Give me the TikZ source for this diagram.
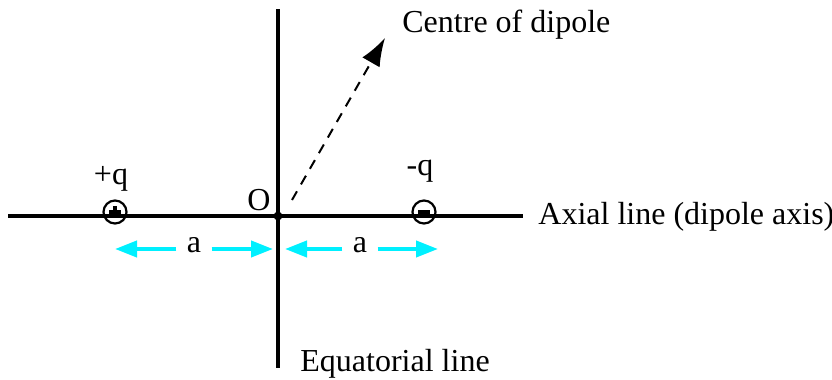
\documentclass[tikz,border=0pt]{standalone}
\usepackage{fontspec}
\setmainfont{Liberation Serif}
\usetikzlibrary{arrows.meta}
\definecolor{gapcyan}{RGB}{0,240,255}
\tikzset{
  charge/.style={draw,circle,line width=1.1pt,minimum size=11.5pt,inner sep=0pt},
  sign/.style={line width=1.6pt},
  gap/.style={draw=gapcyan,line width=2pt,-{Triangle[length=11pt,width=8pt]}},
  lbl/.style={inner sep=0pt,font=\fontsize{16}{19}\selectfont}
}
\begin{document}
\begin{tikzpicture}[x=0.5pt,y=-0.5pt]
\useasboundingbox (0,0) rectangle (832,380);
\coordinate (axL) at (8,216);
\coordinate (axR) at (523,216);
\coordinate (eqT) at (278,9);
\coordinate (eqB) at (278,368);
\draw[line width=1.6pt] (axL) -- (axR);
\draw[line width=1.6pt] (eqT) -- (eqB);
\fill (278,216) circle (2.2pt) coordinate (O);

\node[charge] (pq) at (115,212) {};
\draw[sign] (pq.center) ++(-6,0) -- ++(12,0);
\draw[sign] (pq.center) ++(0,-6) -- ++(0,12);
\node[charge] (nq) at (424,212) {};
\draw[sign] (nq.center) ++(-6,0) -- ++(12,0);

\node[lbl] (pqlbl) at (111,179) {+q};
\node[lbl] (nqlbl) at (420,171) {-q};
\node[lbl] (olbl) at (259,200) {O};

% dipole centre
\coordinate (d0) at (292,200);
\coordinate (d1) at (385,38);
\draw[line width=1pt,dash pattern=on 5pt off 4pt,-{Latex[length=14pt,width=10pt]}] (d0) -- (d1);
\node[lbl,anchor=west] (cent) at (402,25) {Centre of dipole};

\node[lbl,anchor=west] (axial) at (538,217) {Axial line (dipole axis)};
\node[lbl,anchor=west] (equat) at (300,364) {Equatorial line};

% separations
\node[lbl] (a1) at (194,245) {a};
\node[lbl] (a2) at (360,245) {a};
\coordinate (l1) at (115,249);
\coordinate (r1) at (273,249);
\coordinate (l2) at (285,249);
\coordinate (r2) at (438,249);
\draw[gap] (a1.west |- l1) ++(-10,0) -- (l1);
\draw[gap] (a1.east |- r1) ++(10,0) -- (r1);
\draw[gap] (a2.west |- l2) ++(-10,0) -- (l2);
\draw[gap] (a2.east |- r2) ++(10,0) -- (r2);
\end{tikzpicture}
\end{document}
